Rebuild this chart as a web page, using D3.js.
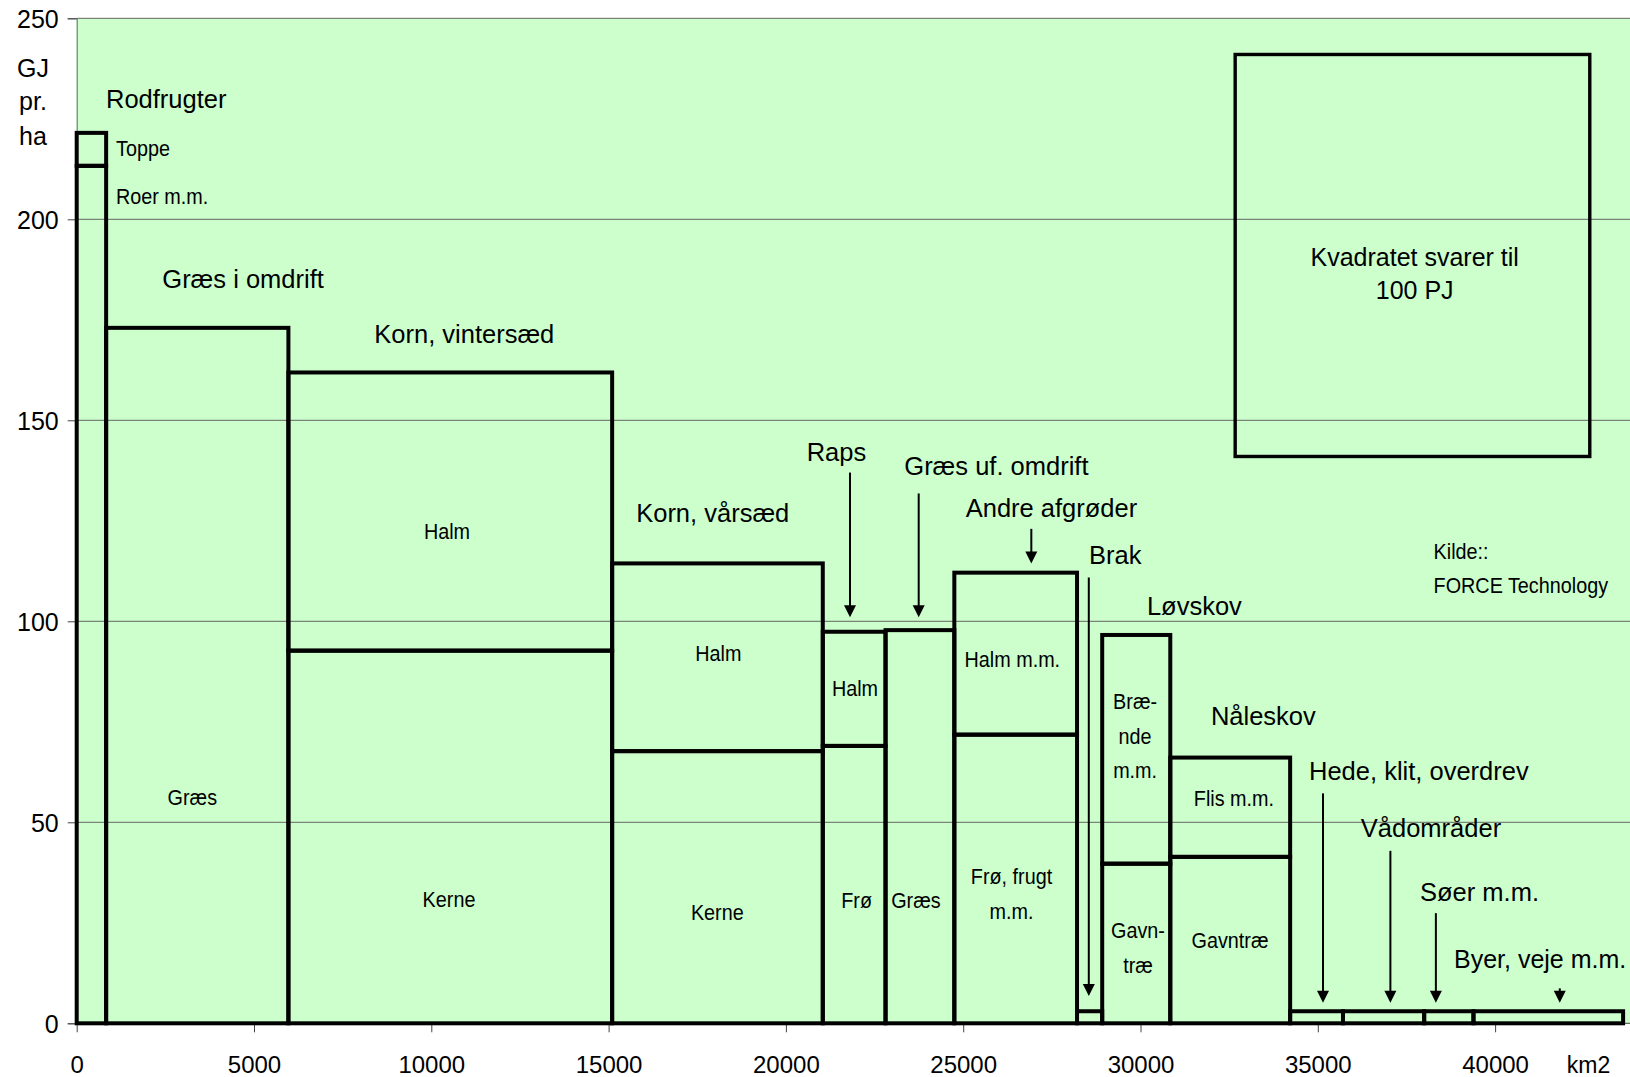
<!DOCTYPE html>
<html><head><meta charset="utf-8">
<script src="https://cdn.jsdelivr.net/npm/d3@7"></script>
<style>body{margin:0;background:#fff} text{font-family:"Liberation Sans",Arial,sans-serif;fill:#000}</style>
</head><body><svg id="c" width="1630" height="1077"></svg>
<script>
// ---- data ----
const categories = ["Rodfrugter","Græs i omdrift","Korn, vintersæd","Korn, vårsæd","Raps","Græs uf. omdrift","Andre afgrøder","Brak","Løvskov","Nåleskov","Hede, klit, overdrev","Vådområder","Søer m.m.","Byer, veje m.m."];
const areaKm2 = [830,5140,9130,5940,1770,1940,3460,710,1920,3380,1490,2290,1390,4220];
const lowerGJ = [213.3,173.0,92.7,67.7,69.0,97.8,71.8,3.0,39.7,41.4,3.0,3.0,3.0,3.0];
const upperGJ = [8.2,0,69.2,46.7,28.4,0,40.3,0,56.9,24.7,0,0,0,0];
const lowerNames = ["Roer m.m.","Græs","Kerne","Kerne","Frø","Græs","Frø, frugt|m.m.","","Gavn-|træ","Gavntræ","","","",""];
const upperNames = ["Toppe","","Halm","Halm","Halm","","Halm m.m.","","Bræ-|nde|m.m.","Flis m.m.","","","",""];
const yTicks = [0,50,100,150,200,250];
const xTicks = [0,5000,10000,15000,20000,25000,30000,35000,40000];
const squareKm2 = 10000, squareGJ = 100; // 100 PJ reference square
const yLabel = ["GJ","pr.","ha"], xLabel = "km2";
const noteSquare = ["Kvadratet svarer til","100 PJ"];
const noteSource = ["Kilde::","FORCE Technology"];

// ---- layout ----
const svg = d3.select("#c");
const x = d3.scaleLinear().domain([0,44000]).range([76.7, 76.7+44*35.46]);
const y = d3.scaleLinear().domain([0,250]).range([1023.3, 18.3]);
const L = 76.7, R = 1630;

svg.append("rect").attr("x",L).attr("y",y(250)).attr("width",R-L).attr("height",y(0)-y(250)).attr("fill","#ccffcc");

// gridlines
svg.append("g").selectAll("line").data(yTicks.filter(d=>d>0)).join("line")
  .attr("x1",L).attr("x2",R).attr("y1",d=>y(d)).attr("y2",d=>y(d))
  .attr("stroke","#666").attr("stroke-width",1);

// axes
const yAxis = svg.append("g").attr("transform",`translate(${L},0)`)
  .call(d3.axisLeft(y).tickValues(yTicks).tickSize(9).tickPadding(9).tickFormat(d3.format("d")));
yAxis.select(".domain").attr("stroke","#666");
yAxis.selectAll(".tick line").attr("stroke","#444");
yAxis.selectAll(".tick text").style("font-size","25px").attr("dy","0.36em");

const xAxis = svg.append("g").attr("transform",`translate(0,${y(0)})`)
  .call(d3.axisBottom(x).tickValues(xTicks).tickSize(9).tickPadding(24).tickFormat(d3.format("d")));
xAxis.select(".domain").attr("stroke","#444").attr("d",`M${L},0H${R}`);
xAxis.selectAll(".tick line").attr("stroke","#444");
xAxis.selectAll(".tick text").style("font-size","24px").attr("dy","0.71em");

// bars
let cum = 0;
const bars = areaKm2.map((w,i)=>{const b={i,x0:cum,x1:cum+w,lo:lowerGJ[i],up:upperGJ[i]}; cum+=w; return b;});
const g = svg.append("g").attr("fill","none").attr("stroke","#000").attr("stroke-width",4);
g.selectAll("rect.lo").data(bars).join("rect").attr("class","lo")
  .attr("x",d=>x(d.x0)).attr("width",d=>x(d.x1)-x(d.x0))
  .attr("y",d=>y(d.lo)).attr("height",d=>y(0)-y(d.lo));
g.selectAll("rect.up").data(bars.filter(d=>d.up>0)).join("rect").attr("class","up")
  .attr("x",d=>x(d.x0)).attr("width",d=>x(d.x1)-x(d.x0))
  .attr("y",d=>y(d.lo+d.up)).attr("height",d=>y(d.lo)-y(d.lo+d.up));

// reference square (10000 km2 x 100 GJ/ha = 100 PJ)
const sqX0 = 32670, sqY0 = 141;
svg.append("rect").attr("x",x(sqX0)).attr("y",y(sqY0+squareGJ))
  .attr("width",x(sqX0+squareKm2)-x(sqX0)).attr("height",y(sqY0)-y(sqY0+squareGJ))
  .attr("fill","none").attr("stroke","#000").attr("stroke-width",3.4);
svg.append("text").attr("x",1414.7).attr("y",265.7).attr("text-anchor","middle").style("font-size","25px").text(noteSquare[0]);
svg.append("text").attr("x",1414.7).attr("y",299).attr("text-anchor","middle").style("font-size","25px").text(noteSquare[1]);

// category labels (pixel layout)
const catPos = [[106,108.3],[162.3,288.3],[374.3,343.3],[636.2,522],[806.7,460.7],[904.3,475],[965.7,516.7],[1089,564],[1146.9,615],[1210.9,725],[1309,780],[1360.8,837.3],[1420,900.7],[1454,968.3]];
svg.append("g").selectAll("text").data(categories).join("text")
  .attr("x",(d,i)=>catPos[i][0]).attr("y",(d,i)=>catPos[i][1])
  .style("font-size",(d,i)=>i===13?"25px":"25.5px").text(d=>d);

// inner (narrow) labels
const lowPos = [[116,204,"start"],[192.3,805],[449,907],[717.3,919.5],[856.6,908],[915.9,908],[1011.5,884.4],null,[1138,938.3],[1230,948.3]];
const upPos = [[116,156,"start"],null,[447,539],[718.4,660.7],[855,696],null,[1012.3,666.7],null,[1135.1,709.3],[1233.9,806]];
function narrow(txt,px,py,anchor){
  const lines = txt.split("|");
  lines.forEach((t,k)=>{
    svg.append("text").attr("transform",`translate(${px},${py+k*34.2}) scale(0.9,1)`)
      .attr("text-anchor",anchor||"middle").style("font-size","22px").text(t);
  });
}
lowerNames.forEach((n,i)=>{ if(n && lowPos[i]) narrow(n,lowPos[i][0],lowPos[i][1],lowPos[i][2]); });
upperNames.forEach((n,i)=>{ if(n && upPos[i]) narrow(n,upPos[i][0],upPos[i][1],upPos[i][2]); });
narrow(noteSource[0],1433.6,559.3,"start");
narrow(noteSource[1],1433.6,593.3,"start");

// arrows (data units: km2, top GJ, tip GJ)
const arrows = [[21807,137,101],[23745,131.8,101],[26921,123,114.4],[28542,110.9,6.8],[35147,57.2,5.1],[37047,42.9,5.1],[38330,27.4,5.1],[41824,8.7,5.1]];
const ag = svg.append("g");
arrows.forEach(a=>{
  const ax=x(a[0]), t=y(a[1]), tip=y(a[2]);
  ag.append("line").attr("x1",ax).attr("x2",ax).attr("y1",t).attr("y2",tip-8).attr("stroke","#000").attr("stroke-width",2);
  ag.append("path").attr("d",`M${ax-6},${tip-12}L${ax+6},${tip-12}L${ax},${tip}Z`).attr("fill","#000");
});

// axis titles
yLabel.forEach((t,k)=>svg.append("text").attr("x",33).attr("y",[76.7,110,145][k]).attr("text-anchor","middle").style("font-size","25px").text(t));
svg.append("text").attr("x",1566.8).attr("y",1073).style("font-size","23px").text(xLabel);
</script></body></html>
